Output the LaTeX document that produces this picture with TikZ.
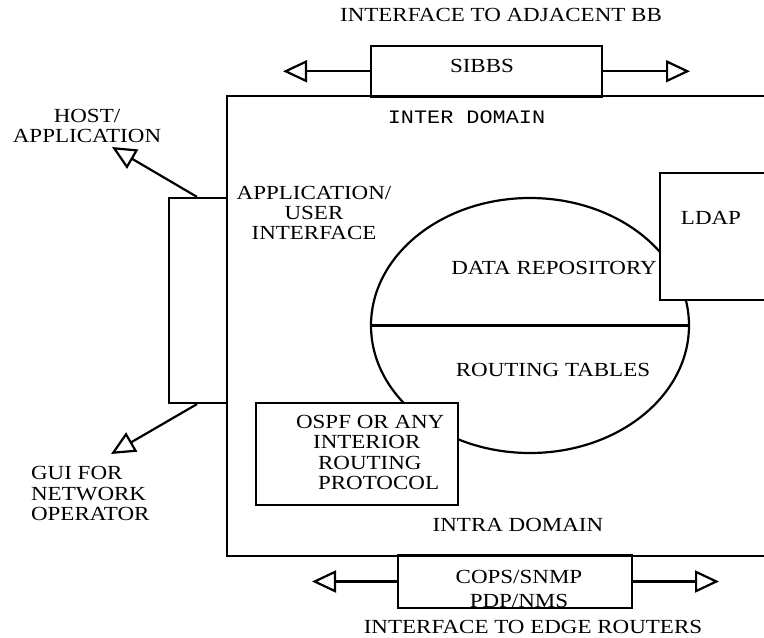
\documentclass[tikz,border=0pt]{standalone}
\usepackage{fontspec}
\setmainfont{Liberation Serif}[FakeStretch=1.15]
\newfontfamily\labelmono{Liberation Mono}[FakeStretch=1.15]
\usetikzlibrary{arrows.meta,shapes.geometric}
\begin{document}
\begin{tikzpicture}[x=1pt,y=-1pt,
  line width=2.2pt,
  box/.style={draw, fill=white, inner sep=0pt},
  lbl/.style={font=\fontsize{20}{20.3}\selectfont, inner sep=0pt, align=center},
  arr/.style={-{Triangle[open,length=24pt,width=22pt]}},
]
\useasboundingbox (0,0) rectangle (764,638);

% building block outline (open towards the right)
\draw (764,96) -- (227,96) -- (227,556) -- (764,556);

% central repository split into two halves
\node[draw, ellipse, inner sep=0pt, minimum width=318pt, minimum height=255pt] (repo) at (530,325.5) {};
\draw (repo.west) -- (repo.east);

% directory service box at the right edge
\fill[white] (660,173) rectangle (764,300);
\draw (764,173) -- (660,173) -- (660,300) -- (764,300);

% routing protocol box
\node[box, minimum width=202pt, minimum height=102pt] (ospf) at (357,454) {};

% user interface box on the left side
\node[box, minimum width=58pt, minimum height=205pt] (ui) at (198,300.5) {};

% inter-domain signalling box
\node[box, minimum width=231pt, minimum height=50.5pt] (sibbs) at (486.5,71.25) {};
\coordinate (sibbsL) at (283,71.25);
\coordinate (sibbsR) at (690,71.25);
\draw[arr] (sibbs.west) -- (sibbsL);
\draw[arr] (sibbs.east) -- (sibbsR);

% edge router management box (outline drawn after its label)
\node[inner sep=0pt, minimum width=232pt, minimum height=51pt] (cops) at (515,581.5) {};
\coordinate (copsL) at (312,581.5);
\coordinate (copsR) at (719,581.5);
\draw[arr] (cops.west) -- (copsL);
\draw[arr] (cops.east) -- (copsR);

% links from the user interface
\coordinate (hostTip) at (112,147);
\coordinate (guiTip) at (111,454);
\draw[arr] ([xshift=-1pt]ui.north) -- (hostTip);
\draw[arr] ([xshift=-1pt]ui.south) -- (guiTip);

% labels
\node[lbl] (tTop) at (501,15) {INTERFACE TO ADJACENT BB};
\node[lbl] (tSibbs) at (482,66) {SIBBS};
\node[inner sep=0pt, font=\labelmono\fontsize{19}{20}\selectfont] (tInter) at (466.5,117) {INTER DOMAIN};
\node[lbl] (tHost) at (87,126) {HOST/\\APPLICATION};
\node[lbl] (tUi) at (314,213) {APPLICATION/\\USER\\INTERFACE};
\node[lbl] (tRepo) at (554,268) {DATA REPOSITORY};
\node[lbl] (tTables) at (553,370) {ROUTING TABLES};
\node[lbl] (tLdap) at (711,218) {LDAP};
\node[lbl, align=left, anchor=west] (tOspf) at (295,452.5)
  {OSPF OR ANY\\\hspace*{17pt}INTERIOR\\\hspace*{22pt}ROUTING\\\hspace*{22pt}PROTOCOL};
\node[lbl, align=left, anchor=west] (tGui) at (30,493.5) {GUI FOR\\NETWORK\\OPERATOR};
\node[lbl] (tIntra) at (518,525) {INTRA DOMAIN};
\node[lbl, font=\fontsize{20}{24}\selectfont] (tCops) at (519,589) {COPS/SNMP\\PDP/NMS};
\node[lbl] (tEdge) at (533,627) {INTERFACE TO EDGE ROUTERS};

% box outline drawn over the lower label line
\draw (cops.south west) rectangle (cops.north east);
\end{tikzpicture}
\end{document}
